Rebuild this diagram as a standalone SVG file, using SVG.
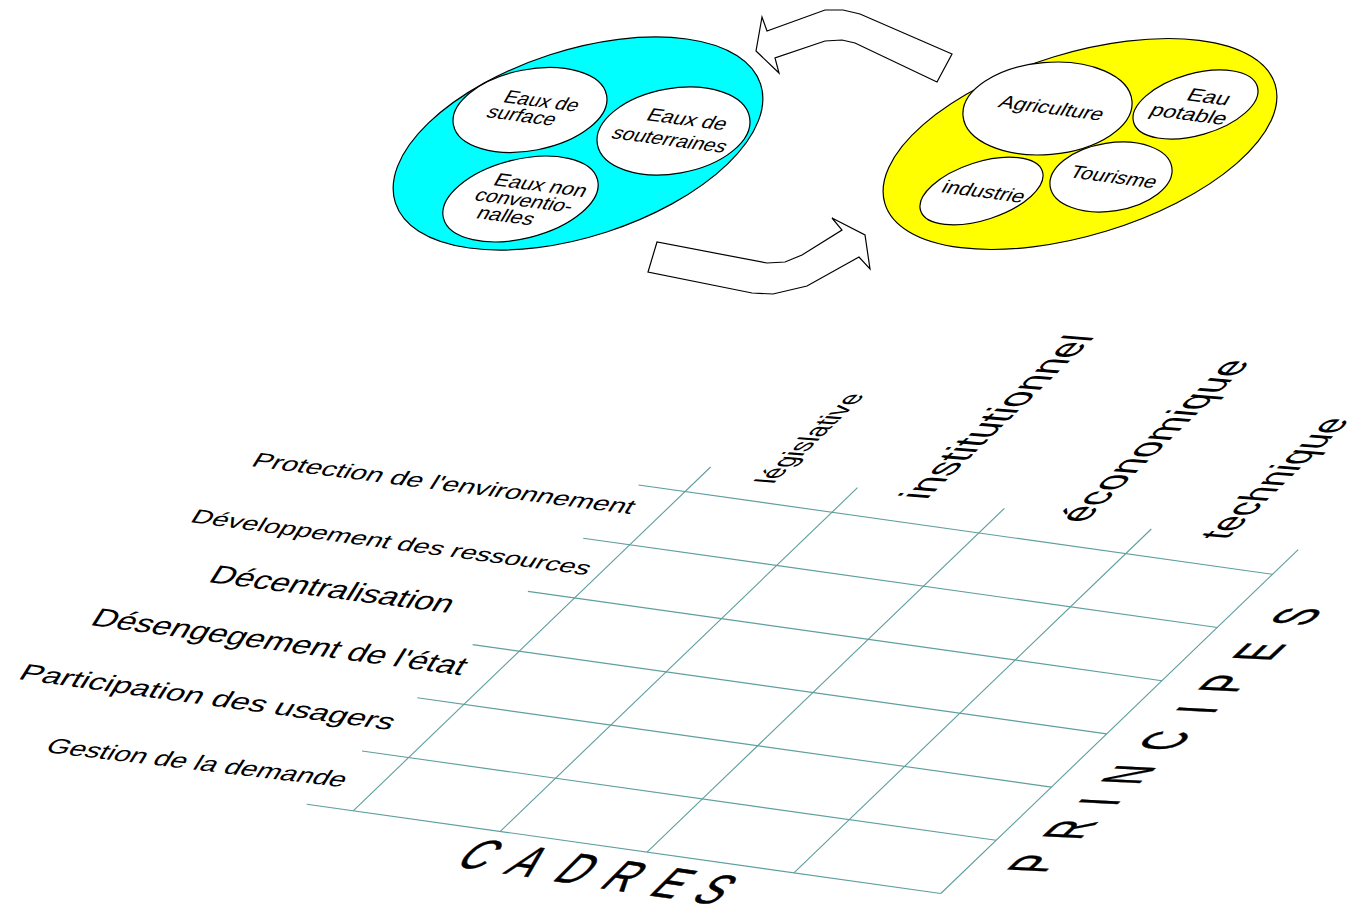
<svg xmlns="http://www.w3.org/2000/svg" width="1367" height="912" viewBox="0 0 1367 912">
<style>
.bg{fill:#ffffff}
.outer{stroke:#000;stroke-width:1.2}
.cyan{fill:#00ffff}
.yellow{fill:#ffff00}
.inner{fill:#fff;stroke:#000;stroke-width:1.2}
.arrow{fill:#fff;stroke:#000;stroke-width:1.2;stroke-linejoin:miter}
.grid line{stroke:#5f9e9e;stroke-width:1.1}
.t{font-family:"Liberation Sans",Arial,sans-serif;fill:#000}
.small{font-size:20px}
.axis{stroke:#000;stroke-width:0.6}
</style>
<rect class="bg" x="0" y="0" width="1367" height="912"/>

<g id="connectors">
  <polygon id="arrow-top" class="arrow" points="756,51 762,17 767,31 825,10 843,10 860,14 952,54 937,82 855,43 842,40 825,41 775,58 779,73"/>
  <polygon id="arrow-bottom" class="arrow" points="657,242 648,272 752,293 773,294 807,286 859,257 870,269 865,235 832,218 842,230 802,255 785,262 767,263"/>
</g>

<g id="ressources">
  <ellipse class="outer cyan" cx="578" cy="143.5" rx="192" ry="93" transform="rotate(-18 578 143.5)"/>
  <g id="eaux-surface">
    <ellipse class="inner" cx="530" cy="110" rx="78" ry="40.5" transform="rotate(-11 530 110)"/>
    <text class="t small" transform="matrix(0.9914 0.1305 -0.5 0.866 502 102)" textLength="74" lengthAdjust="spacingAndGlyphs">Eaux de</text>
    <text class="t small" transform="matrix(0.9914 0.1305 -0.5 0.866 485 117)" textLength="68" lengthAdjust="spacingAndGlyphs">surface</text>
  </g>
  <g id="eaux-souterraines">
    <ellipse class="inner" cx="673.5" cy="131" rx="77.3" ry="42.5" transform="rotate(-10 673.5 131)"/>
    <text class="t small" transform="matrix(0.9914 0.1305 -0.5 0.866 645 120)" textLength="79" lengthAdjust="spacingAndGlyphs">Eaux de</text>
    <text class="t small" transform="matrix(0.9914 0.1305 -0.5 0.866 610 138)" textLength="114" lengthAdjust="spacingAndGlyphs">souterraines</text>
  </g>
  <g id="eaux-non-conventionnelles">
    <ellipse class="inner" cx="520.5" cy="199" rx="79.4" ry="39.5" transform="rotate(-14 520.5 199)"/>
    <text class="t small" transform="matrix(0.9914 0.1305 -0.5 0.866 492 185)" textLength="92" lengthAdjust="spacingAndGlyphs">Eaux non</text>
    <text class="t small" transform="matrix(0.9914 0.1305 -0.5 0.866 473 200)" textLength="97" lengthAdjust="spacingAndGlyphs">conventio-</text>
    <text class="t small" transform="matrix(0.9914 0.1305 -0.5 0.866 475 218)" textLength="56" lengthAdjust="spacingAndGlyphs">nalles</text>
  </g>
</g>

<g id="usages">
  <ellipse class="outer yellow" cx="1080" cy="144" rx="204" ry="91" transform="rotate(-17 1080 144)"/>
  <g id="agriculture">
    <ellipse class="inner" cx="1047.5" cy="108.5" rx="84.8" ry="46" transform="rotate(-5 1047.5 108.5)"/>
    <text class="t small" transform="matrix(0.9914 0.1305 -0.5 0.866 997 107)" textLength="104" lengthAdjust="spacingAndGlyphs">Agriculture</text>
  </g>
  <g id="eau-potable">
    <ellipse class="inner" cx="1195.5" cy="104.5" rx="64.4" ry="30.8" transform="rotate(-16 1195.5 104.5)"/>
    <text class="t small" transform="matrix(0.9914 0.1305 -0.5 0.866 1185 100)" textLength="42" lengthAdjust="spacingAndGlyphs">Eau</text>
    <text class="t small" transform="matrix(0.9914 0.1305 -0.5 0.866 1148 115)" textLength="76" lengthAdjust="spacingAndGlyphs">potable</text>
  </g>
  <g id="tourisme">
    <ellipse class="inner" cx="1111" cy="177" rx="61.6" ry="34" transform="rotate(-9 1111 177)"/>
    <text class="t small" transform="matrix(0.9914 0.1305 -0.5 0.866 1068 177)" textLength="86" lengthAdjust="spacingAndGlyphs">Tourisme</text>
  </g>
  <g id="industrie">
    <ellipse class="inner" cx="981.5" cy="191" rx="64" ry="28.9" transform="rotate(-18 981.5 191)"/>
    <text class="t small" transform="matrix(0.9914 0.1305 -0.5 0.866 940 192)" textLength="82" lengthAdjust="spacingAndGlyphs">industrie</text>
  </g>
</g>

<g id="grille" class="grid">
  <line x1="638.5" y1="485" x2="1272.6" y2="574.3"/>
  <line x1="583.2" y1="538.2" x2="1217.3" y2="627.5"/>
  <line x1="527.9" y1="591.4" x2="1162" y2="680.7"/>
  <line x1="472.6" y1="644.6" x2="1106.7" y2="733.9"/>
  <line x1="417.3" y1="697.8" x2="1051.4" y2="787.1"/>
  <line x1="362" y1="751" x2="996.1" y2="840.3"/>
  <line x1="306.7" y1="804.2" x2="940.8" y2="893.5"/>
  <line x1="710.6" y1="467" x2="353.2" y2="810.9"/>
  <line x1="857.5" y1="487.7" x2="500.1" y2="831.6"/>
  <line x1="1004.4" y1="508.3" x2="647" y2="852.2"/>
  <line x1="1151.3" y1="529" x2="793.9" y2="872.9"/>
  <line x1="1298.2" y1="549.6" x2="940.8" y2="893.5"/>
</g>

<g id="principes-lignes">
  <text class="t" font-size="23" transform="matrix(0.9921 0.1253 -0.53 0.848 250 466)" textLength="383" lengthAdjust="spacingAndGlyphs">Protection de l'environnement</text>
  <text class="t" font-size="22" transform="matrix(0.9912 0.1323 -0.53 0.848 189 522)" textLength="401" lengthAdjust="spacingAndGlyphs">Développement des ressources</text>
  <text class="t" font-size="29" transform="matrix(0.9919 0.1271 -0.53 0.848 207 582)" textLength="243" lengthAdjust="spacingAndGlyphs">Décentralisation</text>
  <text class="t" font-size="29" transform="matrix(0.9910 0.1340 -0.53 0.848 89 625)" textLength="375" lengthAdjust="spacingAndGlyphs">Désengegement de l'état</text>
  <text class="t" font-size="26" transform="matrix(0.9907 0.1357 -0.53 0.848 17 679)" textLength="376" lengthAdjust="spacingAndGlyphs">Participation des usagers</text>
  <text class="t" font-size="24" transform="matrix(0.9932 0.1167 -0.53 0.848 44 752)" textLength="300" lengthAdjust="spacingAndGlyphs">Gestion de la demande</text>
</g>

<g id="cadres-colonnes">
  <text class="t" font-size="29" transform="matrix(0.719 -0.695 1 0.08 773 484)" textLength="129" lengthAdjust="spacingAndGlyphs">législative</text>
  <text class="t" font-size="42" transform="matrix(0.719 -0.695 1 0.08 926 500)" textLength="236" lengthAdjust="spacingAndGlyphs">institutionnel</text>
  <text class="t" font-size="42" transform="matrix(0.719 -0.695 1 0.08 1084 523)" textLength="233" lengthAdjust="spacingAndGlyphs">économique</text>
  <text class="t" font-size="41" transform="matrix(0.719 -0.695 1 0.08 1226 540)" textLength="174" lengthAdjust="spacingAndGlyphs">technique</text>
</g>

<g id="axe-cadres">
  <text class="t axis" font-size="56" transform="matrix(0.692 0.1036 -0.707 0.707 453 866)" x="0 71 141 209 280 341">CADRES</text>
</g>
<g id="axe-principes">
  <text class="t axis" font-size="56" transform="matrix(0.5096 -0.4802 1 0.05 1043.5 873.6)" x="0 69.4 139.6 183.8 254.6 331.2 374.9 441.4 514.4">PRINCIPES</text>
</g>
</svg>
